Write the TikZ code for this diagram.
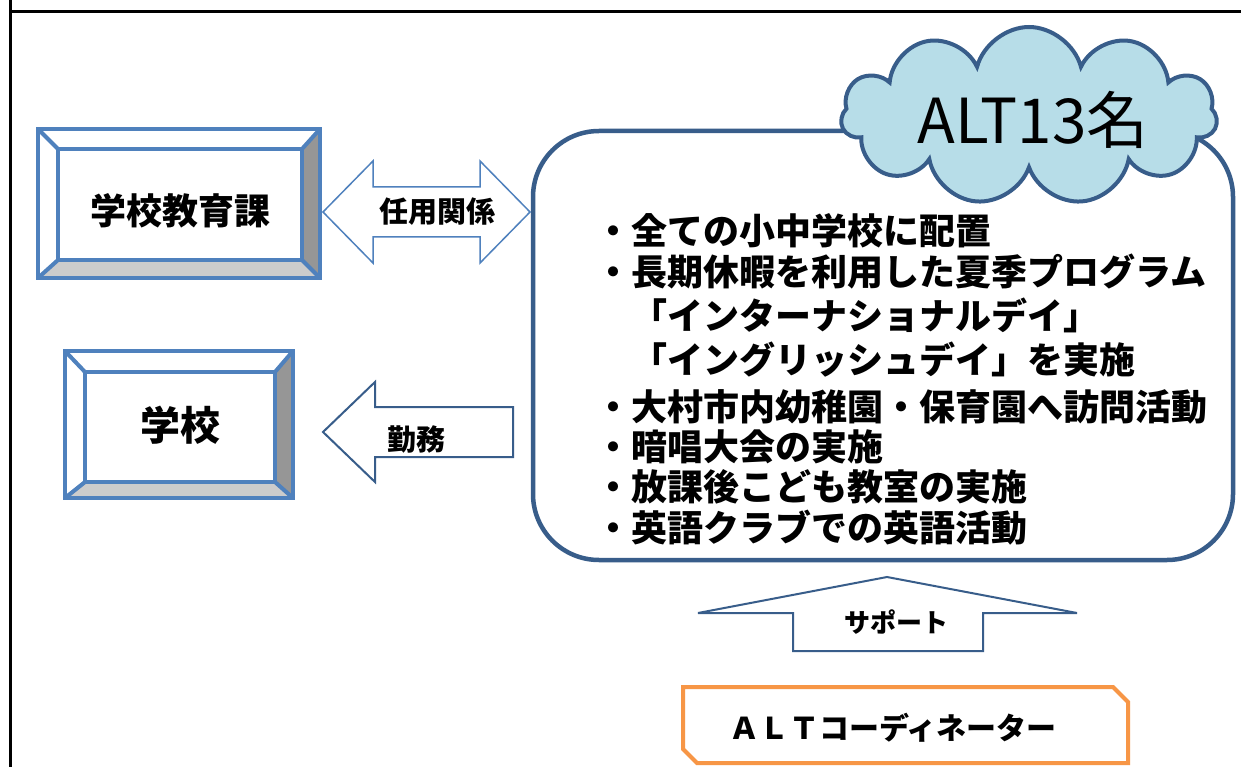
\documentclass[tikz,border=0pt]{standalone}
\usepackage{fontspec}
\setmainfont{Noto Sans CJK JP}
\usetikzlibrary{shapes.symbols}
\definecolor{bevelblue}{RGB}{79,129,189}
\definecolor{darkblue}{RGB}{56,93,138}
\definecolor{cloudfill}{RGB}{183,221,232}
\definecolor{orangeline}{RGB}{247,150,70}
\definecolor{gdark}{RGB}{150,150,150}
\definecolor{glight}{RGB}{204,204,204}
\newcommand{\mybevel}[8]{%
 \fill[white] (#1,#2) rectangle (#3,#4);
 \fill[gdark] (#3,#2) -- (#3,#4) -- (#7,#8) -- (#7,#6) -- cycle;
 \fill[glight] (#1,#4) -- (#3,#4) -- (#7,#8) -- (#5,#8) -- cycle;
 \draw[bevelline] (#1,#2) rectangle (#3,#4);
 \draw[bevelline] (#5,#6) rectangle (#7,#8);
 \draw[bevelline] (#1,#2) -- (#5,#6) (#3,#2) -- (#7,#6) (#3,#4) -- (#7,#8) (#1,#4) -- (#5,#8);
}
\tikzset{
 bevelline/.style={draw=bevelblue, line width=4pt, line join=miter},
 boxtext/.style={inner sep=0, font=\fontsize{#1}{#1}\selectfont\bfseries},
 arrowtext/.style={inner sep=0, font=\fontsize{29}{29}\selectfont\bfseries},
 listtext/.style={anchor=west, inner sep=0, font=\fontsize{36}{36}\selectfont\bfseries, text height=31.7pt, text depth=4.3pt},
 lightarrow/.style={draw=bevelblue, line width=1.5pt, fill=white, line join=miter},
 darkarrow/.style={draw=darkblue, line width=2pt, fill=white, line join=miter},
}
\begin{document}
\begin{tikzpicture}[x=1pt,y=-1pt]
\useasboundingbox (0,0) rectangle (1241,767);
\fill[white] (0,0) rectangle (1241,767);
% frame
\draw[line width=3pt] (10.5,0) -- (10.5,767);
\draw[line width=3pt] (9,11.5) -- (1241,11.5);
% bevel boxes
\mybevel{38}{129}{320}{278}{58}{149}{302}{260}
\node[boxtext=36] (kyoiku) at (180,211) {学校教育課};
\mybevel{65}{351}{293}{498}{85}{372}{275}{482}
\node[boxtext=40] (gakko) at (180,425) {学校};
% main rounded box
\node[draw=darkblue, line width=4.5pt, rounded corners=66pt, minimum width=700pt, minimum height=429pt, inner sep=0] (altbox) at (883,345.5) {};
% cloud
\node[cloud, cloud puffs=11, aspect=2.1, draw=darkblue, fill=cloudfill, line width=4pt, minimum width=376pt, minimum height=178pt, inner sep=0] (cloud) at (1029,116) {};
\node[inner sep=0, font=\fontsize{62}{62}\selectfont] (alt) at (1033,120) {ALT13名};
% list
\node[listtext] (l1) at (595,230.5) {・全ての小中学校に配置};
\node[listtext] (l2) at (595,271.7) {・長期休暇を利用した夏季プログラム};
\node[listtext] (l3) at (595,315.8) {　「インターナショナルデイ」};
\node[listtext] (l4) at (595,360.0) {　「イングリッシュデイ」を実施};
\node[listtext] (l5) at (595,406.5) {・大村市内幼稚園・保育園へ訪問活動};
\node[listtext] (l6) at (595,446.7) {・暗唱大会の実施};
\node[listtext] (l7) at (595,486.7) {・放課後こども教室の実施};
\node[listtext] (l8) at (595,527.5) {・英語クラブでの英語活動};
% double arrow
\draw[lightarrow] (323,212) -- (373,161) -- (373,187) -- (480,187) -- (480,161) -- (530,212) -- (480,263) -- (480,237) -- (373,237) -- (373,263) -- cycle;
\node[arrowtext] (ninyo) at (437,212) {任用関係};
% left arrow
\draw[darkarrow] (323,432) -- (375,382) -- (375,407) -- (513,407) -- (513,457) -- (375,457) -- (375,482) -- cycle;
\node[arrowtext] (kinmu) at (416,439) {勤務};
% up arrow
\draw[darkarrow] (887,577) -- (1077,613) -- (983,613) -- (983,651) -- (793,651) -- (793,613) -- (698,613) -- cycle;
\node[inner sep=0, font=\fontsize{26}{26}\selectfont\bfseries] (support) at (896,622) {サポート};
% coordinator box
\draw[draw=orangeline, line width=4pt, line join=miter] (683,687) -- (1113,687) -- (1128,702) -- (1128,763) -- (697,763) -- (683,749) -- cycle;
\node[inner sep=0, font=\fontsize{30}{30}\selectfont\bfseries] (coord) at (893,728) {ＡＬＴコーディネーター};
\end{tikzpicture}
\end{document}
